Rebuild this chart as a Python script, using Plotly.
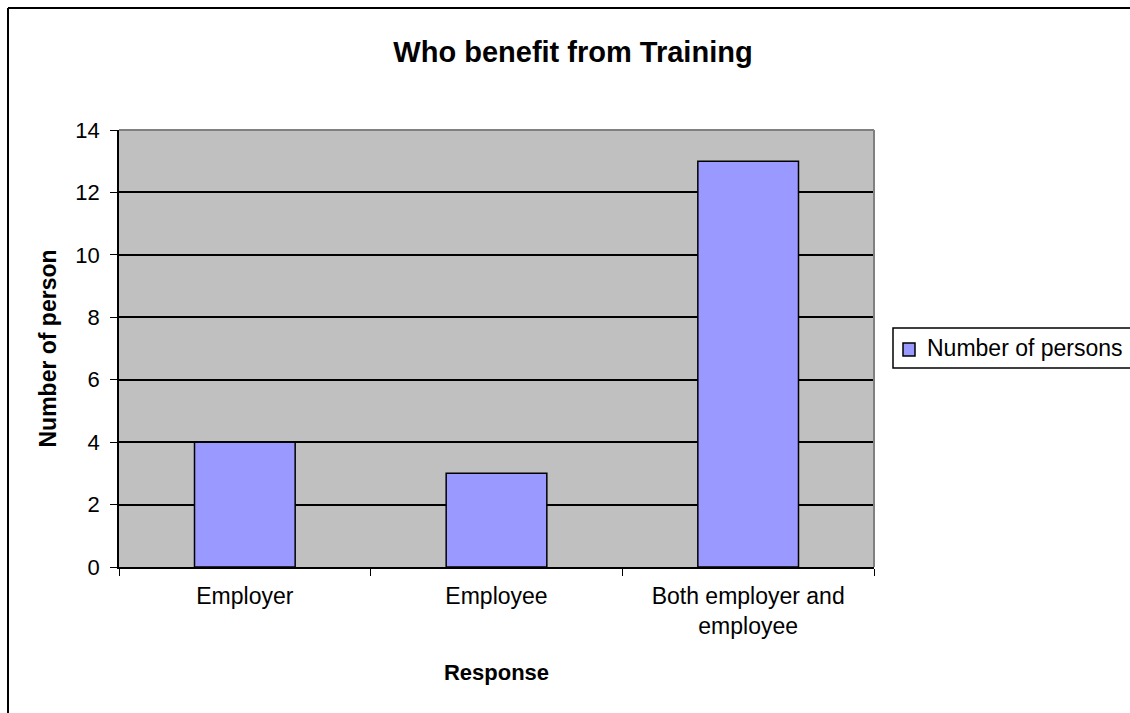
import plotly.graph_objects as go

# Survey responses: who benefits from training
categories = ["Employer", "Employee", "Both employer and<br>employee"]
persons = [4, 3, 13]
series_name = "Number of persons"
bar_color = "#9999FF"

W, H = 1130, 713
L, R, T, B = 119, 256, 130, 146
pw, ph = W - L - R, H - T - B


def px_x(x):
    return (x - L) / pw


def px_y(y):
    return (H - B - y) / ph


font_family = "Liberation Sans, Arial, sans-serif"

fig = go.Figure()
fig.add_trace(go.Bar(
    x=categories,
    y=persons,
    name=series_name,
    marker=dict(color=bar_color, line=dict(color="#000000", width=1.5)),
    showlegend=False,
))

fig.update_layout(
    width=W,
    height=H,
    margin=dict(l=L, r=R, t=T, b=B, autoexpand=False),
    paper_bgcolor="white",
    plot_bgcolor="#C0C0C0",
    bargap=0.6,
    font=dict(family=font_family, size=22, color="black"),
    title=dict(
        text="<b>Who benefit from Training</b>",
        x=573 / W,
        xanchor="center",
        y=1 - 52 / H,
        yanchor="middle",
        font=dict(size=29, family=font_family, color="black"),
    ),
    showlegend=False,
    xaxis=dict(
        type="category",
        showgrid=False,
        showline=True,
        linecolor="black",
        linewidth=1.5,
        ticks="outside",
        tickson="boundaries",
        ticklen=7,
        tickcolor="black",
        tickfont=dict(size=23),
        ticklabelstandoff=8,
        title=dict(text="<b>Response</b>", font=dict(size=22), standoff=26),
        fixedrange=True,
    ),
    yaxis=dict(
        range=[0, 14],
        tickmode="linear",
        tick0=0,
        dtick=2,
        showgrid=True,
        gridcolor="black",
        gridwidth=1.5,
        showline=True,
        linecolor="black",
        linewidth=1.5,
        ticks="outside",
        ticklen=7,
        tickcolor="black",
        tickfont=dict(size=22),
        ticklabelstandoff=6,
        zeroline=False,
        title=dict(text="<b>Number of person</b>", font=dict(size=23), standoff=12),
        fixedrange=True,
    ),
)

# Plot area frame on the top and right edges
fig.add_shape(type="line", xref="paper", yref="paper", x0=0, x1=1, y0=1, y1=1,
              line=dict(color="#808080", width=2))
fig.add_shape(type="line", xref="paper", yref="paper", x0=1, x1=1, y0=0, y1=1,
              line=dict(color="#808080", width=2))

# Outer chart frame (top and left edges fall inside the page)
fig.add_shape(type="line", xref="paper", yref="paper",
              x0=px_x(8), x1=px_x(W), y0=px_y(8), y1=px_y(8),
              line=dict(color="black", width=2))
fig.add_shape(type="line", xref="paper", yref="paper",
              x0=px_x(8), x1=px_x(8), y0=px_y(8), y1=px_y(H),
              line=dict(color="black", width=2))

# Legend: framed box with a swatch and the series name
fig.add_shape(type="path", xref="paper", yref="paper",
              path=(f"M {px_x(W)} {px_y(328)} L {px_x(893)} {px_y(328)} "
                    f"L {px_x(893)} {px_y(368)} L {px_x(W)} {px_y(368)}"),
              line=dict(color="black", width=1.5), fillcolor="white")
fig.add_shape(type="rect", xref="paper", yref="paper",
              x0=px_x(903), x1=px_x(915), y0=px_y(356), y1=px_y(343),
              line=dict(color="black", width=1.5), fillcolor=bar_color)
fig.add_annotation(xref="paper", yref="paper", x=px_x(925), y=px_y(348),
                   xanchor="left", yanchor="middle", showarrow=False,
                   text=series_name, font=dict(size=23, family=font_family, color="black"))

fig.write_html("out.html")
